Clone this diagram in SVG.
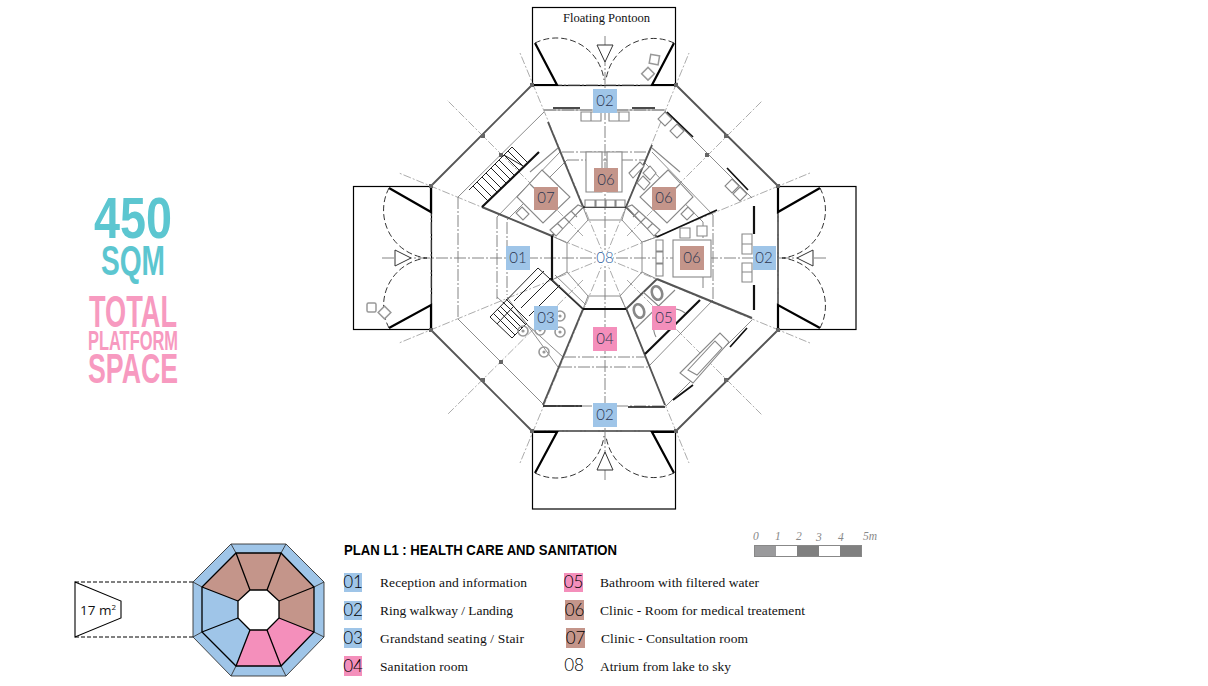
<svg xmlns="http://www.w3.org/2000/svg" xmlns:xlink="http://www.w3.org/1999/xlink" width="1208" height="686" viewBox="0 0 1208 686">
<style>
text{font-family:"Liberation Serif",serif}
.bg{fill:#fff}
.box{fill:none;stroke:#000;stroke-width:1.2}
.door{fill:none;stroke:#000;stroke-width:2.2}
.arc{fill:none;stroke:#333;stroke-width:1;stroke-dasharray:6 3}
.tri{fill:#fff;stroke:#333;stroke-width:1}
.ax{fill:none;stroke:#777;stroke-width:.9;stroke-dasharray:12 2 2 2}
.rad{fill:none;stroke:#888;stroke-width:.7;stroke-dasharray:8 2 2 2}
.thin{fill:none;stroke:#808080;stroke-width:.9}
.wall{fill:none;stroke:#555;stroke-width:1.9}
.heavy{fill:none;stroke:#111;stroke-width:2.2}
.mid{fill:none;stroke:#222;stroke-width:1}
.f{fill:#fff;stroke:#888;stroke-width:1.1}
.fl{fill:none;stroke:#888;stroke-width:1.1}
.s{fill:#fff;stroke:#999;stroke-width:1.5}
.stool{fill:none;stroke:#999;stroke-width:1.6}
.bowl{fill:#fff;stroke:#888;stroke-width:2.6}
.tick{fill:#666}
.blue{fill:#9fc5e8}
.brown{fill:#c4958a}
.pink{fill:#f48fbb}
.lab{font-family:"Lato","Open Sans",sans-serif;font-weight:300;font-size:15px;fill:#2c3550;text-anchor:middle}
.leg{font-family:"Lato","Open Sans",sans-serif;font-weight:300;font-size:17px;fill:#000;text-anchor:middle}
.txt{font-size:13.5px;fill:#111}
.big{font-family:"Liberation Sans",sans-serif;font-weight:700}
.sc{font-style:italic;font-size:11.5px;fill:#888}
.mini{stroke:#000;stroke-width:1.3}
.miniout{stroke:#333;stroke-width:.9}
</style>

<g id="headline">
<text class="big" x="94" y="238" font-size="58" fill="#5cc6d0" textLength="78" lengthAdjust="spacingAndGlyphs">450</text>
<text class="big" x="101" y="275" font-size="43" fill="#5cc6d0" textLength="64" lengthAdjust="spacingAndGlyphs">SQM</text>
<text class="big" x="89" y="327" font-size="44" fill="#f79ac0" textLength="88" lengthAdjust="spacingAndGlyphs">TOTAL</text>
<text class="big" x="88" y="350" font-size="27" fill="#f79ac0" textLength="90" lengthAdjust="spacingAndGlyphs">PLATFORM</text>
<text class="big" x="88" y="383" font-size="42" fill="#f79ac0" textLength="90" lengthAdjust="spacingAndGlyphs">SPACE</text>
</g>

<g id="pontoons">
<rect class="box" x="532.5" y="7.5" width="143" height="78"/>
<rect class="box" x="532.5" y="431" width="143" height="78"/>
<rect class="box" x="353.5" y="186.5" width="78" height="143"/>
<rect class="box" x="778" y="186.5" width="78" height="143"/>
<text x="563" y="22" font-size="12" fill="#111" textLength="87" lengthAdjust="spacingAndGlyphs">Floating Pontoon</text>
</g>

<g id="connectors">
<path class="ax" d="M382 258H827M605 36V480"/>
<path class="rad" d="M605 258L399 173M605 258L520 53M605 258L689 53M605 258L810 173M605 258L810 343M605 258L689 463M605 258L520 463M605 258L399 343"/>
<path class="rad" d="M583 236L447 100M627 236L762 101M627 280L762 415M583 280L447 415"/>
<path class="ax" d="M532 85H676M532 431H676M431 186V330M778 186V330"/>
<path class="ax" d="M544 110H665M544 406H666M458 197V319"/>
<path class="thin" d="M544 112L458 197M665 111L752 198M752 320L666 406M544 405L458 319"/>
<path class="ax" d="M562 152H650M567 160H645M564 357H645M560 367H650M497 217V299M507 222V295M703 222V290M713 215V300"/>
<path class="thin" d="M560 152L497 217M567 160L507 220M558 367L507 297M563 357L497 297M652 152L713 215M645 163L703 222M650 365L713 300"/>
<path class="thin" d="M588 220H622L642 242V272L620 296H588L567 272V243Z"/>
<path class="thin" d="M583 207L588 220M626 207L622 220M657 237L642 242M657 279L642 272M626 309L620 296M583 309L588 296M552 280L567 272M552 236L567 243"/>
</g>

<g id="doors">
<path class="door" d="M532 85H557L535 43M676 85H652L674 43M431 186V212L389 188M431 330V305L389 328M778 186V212L820 188M778 330V305L820 328M532 432H557L535 473M676 432H652L674 473"/>
<path class="arc" d="M535 43A48 48 0 0 1 604 80M674 43A48 48 0 0 0 606 80M389 188A48 48 0 0 0 427 258M389 328A48 48 0 0 1 427 258M820 188A48 48 0 0 1 782 258M820 328A48 48 0 0 0 782 258M535 473A48 48 0 0 0 604 436M674 473A48 48 0 0 1 606 436"/>
<path class="tri" d="M597 45H613L605 62ZM395 250V266L411 258ZM813 250V266L797 258ZM605 452L597 470H613Z"/>
</g>

<g id="walls">
<path class="wall" d="M532 85L431 186M676 85L778 186M778 330L676 431M532 431L431 330"/>
<path class="wall" d="M548 122L583 207M652 145L626 207M626 207L657 237M657 279L752 318M626 308L665 405M583 309L543 405M552 236L482 207M583 309L552 280M583 207L552 236M657 279L626 309"/>
<path class="thin" d="M555 275L586 305M544 110H665"/>
<path class="tick" d="M481 134h4v4h-4zM724 134h4v4h-4zM724 378h4v4h-4zM481 378h4v4h-4zM499 153h4v4h-4zM705 153h4v4h-4zM705 360h4v4h-4zM499 360h4v4h-4zM429 184h4v4h-4zM530 83h4v4h-4zM674 83h4v4h-4zM776 184h4v4h-4zM776 328h4v4h-4zM674 429h4v4h-4zM530 429h4v4h-4zM429 328h4v4h-4z"/>
<path class="heavy" d="M552 236V280M583 207H626M583 309H626M482 207L539 152M645 354L700 300M754 206V234M754 285V310"/>
<path class="heavy" style="stroke-width:1.7" d="M657 237L717 210M553 108H580M632 108H655M543 406H582M628 407H665M667 112L693 137M727 168L748 190M673 400L693 385M730 347L747 328"/>
</g>

<g id="stairs">
<path class="mid" d="M469 190L512 147M473 186L488 201M477 182L492 197M482 177L497 192M486 173L501 188M491 168L506 183M495 164L510 179M499 160L514 175M504 155L519 170M508 151L523 166M512 147L527 162M504 155L523 166"/>
<path class="mid" d="M490 317L538 268L583 309M490 317L512 338L527 323M493 313L515 335M497 309L519 331M500 306L522 328M503 302L525 324M506 299L528 321M497 324L513 307M514 301L544 271M521 308L552 277M529 316L560 285"/>
</g>

<g id="furniture">
<path class="f" d="M581 112h10v9h-10zM591 112h10v9h-10zM609 112h10v9h-10zM619 112h10v9h-10z"/>
<path class="f" d="M586 152h16v40h-16zM607 152h15v40h-15z"/>
<path class="f" d="M585 200h10v7h-10zM596 200h9v7h-9zM606 200h9v7h-9zM616 200h9v7h-9z"/>
<rect class="f" x="673" y="240" width="38" height="37"/>
<path class="f" d="M680 228h10v10h-10zM697 226h10v10h-10zM656 240h7v11h-7zM656 252h7v11h-7zM656 264h7v12h-7zM742 234h10v10h-10zM742 244h10v10h-10zM742 263h10v9h-10zM742 272h10v10h-10z"/>
<g id="room-left">
<path class="f" d="M542 170L570 197L543 223L517 197Z"/>
<path class="fl" d="M530 184L556 210M530 172L558 148"/>
<path class="f" d="M522 207l7 7 -6 6 -7 -7z"/>
<path class="f" d="M550 230L578 205L583 207L556 236ZM557 223L563 229M564 217L570 223M571 211L577 217"/>
</g>
<use xlink:href="#room-left" href="#room-left" transform="matrix(-1 0 0 1 1210 0)"/>
<path class="f" d="M665 112l7 7 -7 7 -7 -7zM677 124l7 7 -7 7 -7 -7zM732 179l7 7 -7 7 -7 -7zM740 187l7 7 -7 7 -7 -7zM650 166l6 7 -6 7 -7 -7zM643 176l7 7 -6 7 -7 -7zM629 173L640 162L644 166L633 178Z"/>
<path class="f" d="M680 373L720 333L729 342L693 383Z"/>
<path class="f" d="M688 370L715 341L722 348L697 375Z"/>
<path class="fl" d="M635 329L675 290M643 292L663 310M656 337A18 18 0 0 1 654 325M668 310A18 18 0 0 1 685 313"/>
<ellipse class="bowl" cx="639" cy="311" rx="5" ry="7" transform="rotate(-20 639 311)"/>
<ellipse class="bowl" cx="657" cy="293" rx="5" ry="7" transform="rotate(-20 657 293)"/>
<g class="stool">
<circle cx="523" cy="331" r="5"/><circle cx="540" cy="330" r="5"/><circle cx="560" cy="316" r="5"/><circle cx="560" cy="332" r="5"/><circle cx="544" cy="352" r="5"/>
<circle cx="523" cy="331" r=".8"/><circle cx="540" cy="330" r=".8"/><circle cx="560" cy="316" r=".8"/><circle cx="560" cy="332" r=".8"/><circle cx="544" cy="352" r=".8"/>
</g>
<rect class="s" x="367" y="303" width="9" height="9" rx="1.5"/>
<rect class="s" x="380" y="308" width="9" height="9" transform="rotate(45 384.5 312.5)"/>
<rect class="s" x="650" y="55" width="9" height="9" transform="rotate(10 654 59)"/>
<rect class="s" x="644" y="69" width="9" height="9" transform="rotate(45 648 73)"/>
</g>

<g id="n01"><rect class="blue" x="506" y="246" width="24" height="24"/><text class="lab" x="518" y="263">01</text></g>
<g id="n02-top"><rect class="blue" x="593" y="89" width="24" height="24"/><text class="lab" x="605" y="106">02</text></g>
<g id="n02-right"><rect class="blue" x="753" y="246" width="23" height="24"/><text class="lab" x="764" y="263">02</text></g>
<g id="n02-bottom"><rect class="blue" x="593" y="403" width="24" height="24"/><text class="lab" x="605" y="420">02</text></g>
<g id="n03"><rect class="blue" x="534" y="306" width="24" height="24"/><text class="lab" x="546" y="323">03</text></g>
<g id="n04"><rect class="pink" x="593" y="327" width="24" height="24"/><text class="lab" x="605" y="344">04</text></g>
<g id="n05"><rect class="pink" x="652" y="306" width="24" height="24"/><text class="lab" x="664" y="323">05</text></g>
<g id="n06-top"><rect class="brown" x="594" y="168" width="24" height="24"/><text class="lab" x="606" y="185">06</text></g>
<g id="n06-topright"><rect class="brown" x="652" y="187" width="24" height="23"/><text class="lab" x="664" y="203">06</text></g>
<g id="n06-right"><rect class="brown" x="680" y="246" width="24" height="24"/><text class="lab" x="692" y="263">06</text></g>
<g id="n07"><rect class="brown" x="534" y="187" width="24" height="23"/><text class="lab" x="546" y="203">07</text></g>
<g id="n08"><rect class="bg" x="597" y="252" width="16" height="13"/><text class="lab" x="605" y="263" style="fill:#2f5f9f">08</text></g>

<g id="key-plan">
<path fill="#9fc5e8" class="miniout" d="M231 544H286L324 582V637L286 676H231L193 637V582Z"/>
<path class="miniout" fill="none" d="M231 544L236 553M286 544L281 553M324 582L314 587M324 637L314 632M286 676L281 666M231 676L236 666M193 637L202 632M193 582L202 587"/>
<path fill="#c4958a" d="M236 553H281L314 587V632L279 618V601L267 590H250L238 601L202 587Z"/>
<path fill="#f48fbb" d="M250 630H267L279 618L314 632L281 666H236Z"/>
<path class="mini" fill="none" d="M236 553H281L314 587V632L281 666H236L202 632V587Z"/>
<path class="mini" fill="none" d="M250 590L236 553M267 590L281 553M279 601L314 587M279 618L314 632M267 630L281 666M250 630L236 666M238 618L202 632M238 601L202 587"/>
<path fill="#fff" class="mini" d="M250 590H267L279 601V618L267 630H250L238 618V601Z"/>
<path fill="#fff" stroke="#000" stroke-width="1.1" d="M75 582L121 601V618L75 637Z"/>
<path fill="none" stroke="#000" stroke-width="1" stroke-dasharray="4 2" d="M75 582H193M75 637H193"/>
<text x="80" y="615" font-size="13.5" style="font-family:'Open Sans',sans-serif" fill="#111">17 m<tspan font-size="8" dy="-5">2</tspan></text>
</g>

<g id="legend">
<text x="344" y="555" font-size="14.5" fill="#000" style="font-family:'Liberation Sans',sans-serif;font-weight:700" textLength="273" lengthAdjust="spacingAndGlyphs">PLAN L1 : HEALTH CARE AND SANITATION</text>
<g id="l01"><rect class="blue" x="344" y="573" width="18" height="19"/><text class="leg" x="353" y="588">01</text><text class="txt" x="380" y="587" textLength="147">Reception and information</text></g>
<g id="l02"><rect class="blue" x="344" y="601" width="18" height="19"/><text class="leg" x="353" y="616">02</text><text class="txt" x="380" y="615" textLength="133">Ring walkway / Landing</text></g>
<g id="l03"><rect class="blue" x="344" y="628" width="18" height="20"/><text class="leg" x="353" y="644">03</text><text class="txt" x="380" y="643" textLength="144">Grandstand seating / Stair</text></g>
<g id="l04"><rect class="pink" x="344" y="656" width="18" height="20"/><text class="leg" x="353" y="672">04</text><text class="txt" x="380" y="671" textLength="88">Sanitation room</text></g>
<g id="l05"><rect class="pink" x="564" y="573" width="19" height="19"/><text class="leg" x="573.5" y="588">05</text><text class="txt" x="600" y="587" textLength="159">Bathroom with filtered water</text></g>
<g id="l06"><rect class="brown" x="565" y="600" width="19" height="20"/><text class="leg" x="574.5" y="616">06</text><text class="txt" x="600" y="615" textLength="205">Clinic - Room for medical treatement</text></g>
<g id="l07"><rect class="brown" x="566" y="628" width="19" height="20"/><text class="leg" x="575.5" y="644">07</text><text class="txt" x="601" y="643" textLength="147">Clinic - Consultation room</text></g>
<g id="l08"><text class="leg" x="574" y="671">08</text><text class="txt" x="600" y="671" textLength="131">Atrium from lake to sky</text></g>
</g>

<g id="scale">
<rect x="754.5" y="545.5" width="107" height="11" fill="#808080" stroke="#888"/>
<rect x="755" y="546" width="21" height="10" fill="#9a9a9c"/>
<rect x="776" y="546" width="21" height="10" fill="#fff"/>
<rect x="819" y="546" width="21" height="10" fill="#fff"/>
<text class="sc" x="753" y="540">0</text><text class="sc" x="775" y="540">1</text><text class="sc" x="796" y="540">2</text><text class="sc" x="816" y="541">3</text><text class="sc" x="838" y="541">4</text><text class="sc" x="863" y="540">5m</text>
</g>
</svg>
